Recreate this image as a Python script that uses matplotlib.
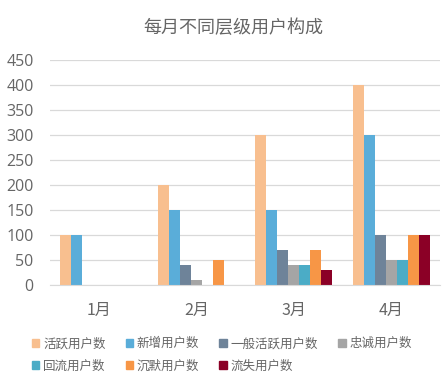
import numpy as np
import matplotlib.pyplot as plt
from matplotlib.patches import Patch

plt.rcParams['font.family'] = ['Open Sans', 'Noto Sans CJK SC', 'DejaVu Sans']

# data
months = ['1月', '2月', '3月', '4月']
series = ['活跃用户数', '新增用户数', '一般活跃用户数', '忠诚用户数',
          '回流用户数', '沉默用户数', '流失用户数']
active = [100, 200, 300, 400]
new = [100, 150, 150, 300]
general = [0, 40, 70, 100]
loyal = [0, 10, 40, 50]
returned = [0, 0, 40, 50]
silent = [0, 50, 70, 100]
churned = [0, 0, 30, 100]
values = [active, new, general, loyal, returned, silent, churned]

colors = ['#F8BF8F', '#5AADD9', '#6E8399', '#A5A5A5',
          '#4BACC6', '#F79646', '#8B0026']

fig = plt.figure(figsize=(4.48, 3.84), dpi=100)
ax = fig.add_axes([0.112, 0.258, 0.87, 0.586])

x = np.arange(len(months))
w = 0.113
for i, (vals, c) in enumerate(zip(values, colors)):
    ax.bar(x + (i - 3) * w, vals, width=w, color=c, label=series[i])

ax.set_xlim(-0.5, 3.5)
ax.set_ylim(0, 450)
ax.set_yticks(range(0, 451, 50))
ax.set_xticks(x)
ax.set_xticklabels(months, family=['Noto Sans CJK SC'])
ax.yaxis.grid(True, color='#D9D9D9', linewidth=0.9)
ax.set_axisbelow(True)
for s in ['top', 'right', 'left']:
    ax.spines[s].set_visible(False)
ax.spines['bottom'].set_color('#D9D9D9')
ax.tick_params(axis='y', length=0, pad=12, labelsize=11.5, labelcolor='#666666')
ax.tick_params(axis='x', length=0, pad=12, labelsize=11.5, labelcolor='#666666')

fig.text(0.52, 0.928, '每月不同层级用户构成', ha='center', va='center',
         fontsize=13, color='#666666', family=['Noto Sans CJK SC'])

# legend fills column by column, so interleave to get row order
order = [0, 4, 1, 5, 2, 6, 3]
handles = [Patch(color=colors[i]) for i in order]
labels = [series[i] for i in order]
fig.legend(handles, labels, loc='upper left', bbox_to_anchor=(0.06, 0.135),
           ncol=4, frameon=False, handlelength=0.6, handleheight=0.6,
           handletextpad=0.3, columnspacing=1.6, labelspacing=0.75,
           borderaxespad=0, prop={'family': 'Noto Sans CJK SC', 'size': 9},
           labelcolor='#666666')

fig.savefig('out.png', dpi=100)
